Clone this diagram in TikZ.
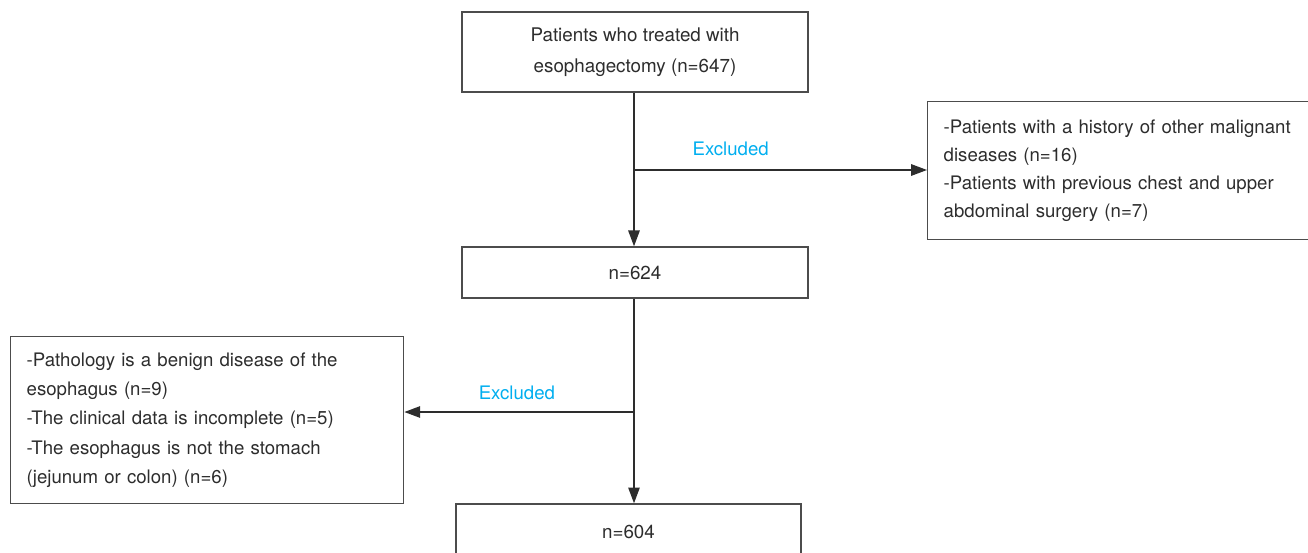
\documentclass[tikz,border=0pt]{standalone}
\usepackage{fontspec}
\setmainfont{TeX Gyre Heros}
\usepackage{xcolor}
\usepackage{tikz}
\usetikzlibrary{positioning, arrows.meta}

\definecolor{exclcyan}{RGB}{0,174,239}
\definecolor{ink}{RGB}{45,45,45}

\begin{document}
\begin{tikzpicture}[x=0.02cm, y=-0.02cm]

	% Styles
	\tikzset{
		mainbox/.style={
			rectangle, draw=black!70, line width=0.8pt,
			minimum width=6.92cm, align=center, text=ink,
			font=\fontsize{10.7pt}{17.5pt}\selectfont
		},
		sidebox/.style={
			rectangle, draw=black!70, line width=0.8pt,
			inner xsep=0.32cm, align=left, text=ink, anchor=north west,
			font=\fontsize{10.6pt}{15.9pt}\selectfont
		},
		arrow/.style={draw=ink, line width=0.85pt, -{Triangle[length=9pt, width=6.5pt]}},
		labelbox/.style={
			draw=none, fill=none, text=exclcyan,
			font=\fontsize{10.6pt}{12pt}\selectfont
		}
	}

	\useasboundingbox (0,0) rectangle (1308,552);

	% Main flow
	\node (start) [mainbox, minimum height=1.6cm] at (635,52) {Patients who treated with\\esophagectomy (n=647)};
	\node (cohort) [mainbox, minimum height=1.02cm] at (635,272.5) {n=624};
	\node (final) [mainbox, minimum width=6.9cm, minimum height=1.12cm] at (628.5,532) {n=604};

	% Exclusion boxes
	\node (exclone) [sidebox, text width=7.06cm, minimum height=2.76cm] at (927,101)
		{-Patients with a history of other malignant\\diseases (n=16)\\-Patients with previous chest and upper\\abdominal surgery (n=7)};
	\node (excltwo) [sidebox, text width=7.22cm, minimum height=3.34cm,
		font=\fontsize{10.6pt}{16.6pt}\selectfont] at (10,336)
		{-Pathology is a benign disease of the\\esophagus (n=9)\\-The clinical data is incomplete (n=5)\\-The esophagus is not the stomach\\(jejunum or colon) (n=6)};

	% Branch points
	\coordinate (splitone) at (634,170);
	\coordinate (splittwo) at (634,412);

	% Arrows
	\draw[arrow] (start.south -| splitone) -- (cohort.north -| splitone);
	\draw[arrow] (splitone) -- node[labelbox, pos=0.33, above=4.5pt] {Excluded} (splitone -| exclone.west);
	\draw[arrow] (cohort.south -| splittwo) -- (final.north -| splittwo);
	\draw[arrow] (splittwo) -- node[labelbox, pos=0.51, above=3pt] {Excluded} (splittwo -| excltwo.east);

\end{tikzpicture}
\end{document}
